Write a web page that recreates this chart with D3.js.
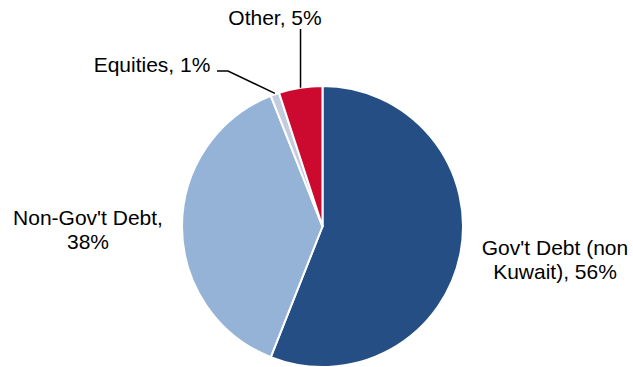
<!DOCTYPE html>
<html><head><meta charset="utf-8">
<script src="https://cdn.jsdelivr.net/npm/d3@7"></script>
<style>body{margin:0;background:#fff}svg{display:block}text{font-family:"Liberation Sans",Arial,sans-serif;fill:#000}</style>
</head><body><svg id="c" width="633" height="367"></svg>
<script>
const categories = ["Gov't Debt (non Kuwait)", "Non-Gov't Debt", "Equities", "Other"];
const values = [56, 38, 1, 5];
const colors = ["#254E85", "#95B3D6", "#C3CBDF", "#CC0A2F"];
const labelLines = [["Gov't Debt (non", "Kuwait), 56%"], ["Non-Gov't Debt,", "38%"], ["Equities, 1%"], ["Other, 5%"]];

const svg = d3.select("#c");
const cx = 322.5, cy = 226.5, r = 140.5;
const g = svg.append("g").attr("transform", `translate(${cx},${cy})`);
const pie = d3.pie().sort(null).value(d => d)(values);
const arc = d3.arc().innerRadius(0).outerRadius(r);
g.selectAll("path").data(pie).enter().append("path")
  .attr("d", arc).attr("fill", (d, i) => colors[i])
  .attr("stroke", "#fff").attr("stroke-width", 2).attr("stroke-linejoin", "round");

const fs = 21;
const labelPos = [[555, 255], [88, 225], [152, 72], [275, 25]];
labelLines.forEach((lines, i) => {
  const t = svg.append("text").attr("font-size", fs).attr("text-anchor", "middle")
    .attr("x", labelPos[i][0]).attr("y", labelPos[i][1]);
  lines.forEach((l, j) => t.append("tspan").attr("x", labelPos[i][0]).attr("dy", j ? 24 : 0).text(l));
});

function edgePoint(d, frac) {
  const a = d.startAngle + (d.endAngle - d.startAngle) * frac;
  return [cx + Math.sin(a) * r, cy - Math.cos(a) * r];
}
const eq = edgePoint(pie[2], 0.5);
svg.append("polyline").attr("points", `217,71 228,71 ${eq[0]},${eq[1] - 1}`)
  .attr("fill", "none").attr("stroke", "#000").attr("stroke-width", 1.5);
const ot = edgePoint(pie[3], 0.5);
svg.append("line").attr("x1", ot[0]).attr("x2", ot[0]).attr("y1", 29).attr("y2", ot[1])
  .attr("stroke", "#000").attr("stroke-width", 1.5);
</script></body></html>
